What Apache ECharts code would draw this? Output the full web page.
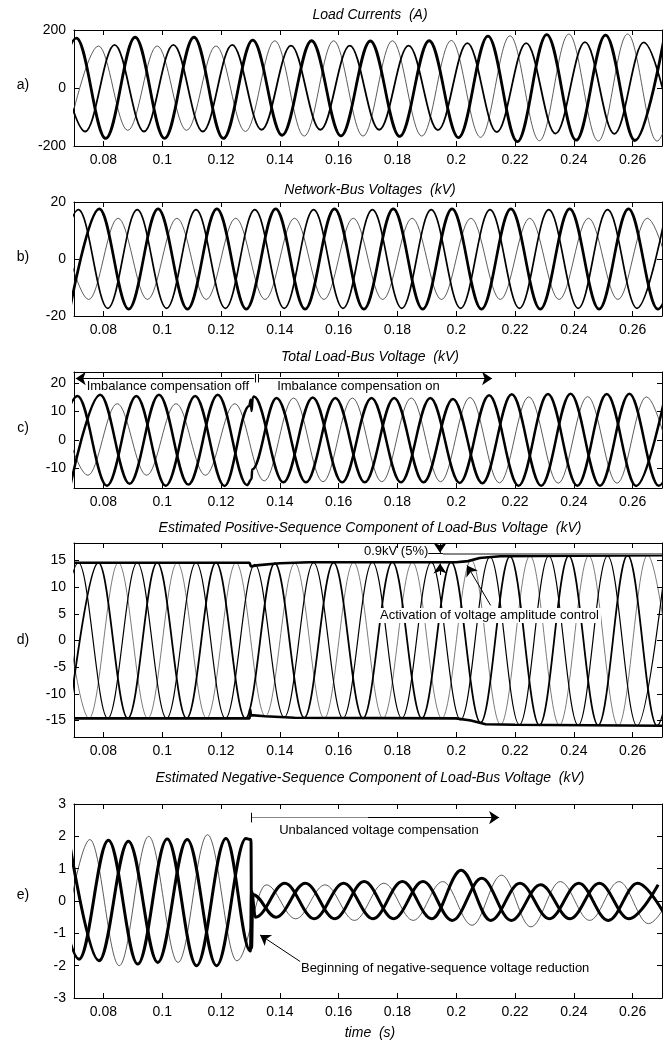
<!DOCTYPE html>
<html><head><meta charset="utf-8">
<script src="https://cdn.jsdelivr.net/npm/echarts@6/dist/echarts.min.js"></script>
<style>html,body{margin:0;padding:0;background:#fff}#c{width:663px;height:1044px}</style>
</head><body><div id="c"></div>
<script>
// ---------------- data ----------------
const HALF_PERIOD = 0.01; // 50 Hz waveforms: successive extrema are 10 ms apart
const TIME_TICKS = [0.08, 0.10, 0.12, 0.14, 0.16, 0.18, 0.20, 0.22, 0.24, 0.26];
const A_TICKS = [-200, 0, 200];
const B_TICKS = [-20, 0, 20];
const C_TICKS = [-10, 0, 10, 20];
const D_TICKS = [-15, -10, -5, 0, 5, 10, 15];
const E_TICKS = [-3, -2, -1, 0, 1, 2, 3];

// a) Load currents (A): extrema values, first extremum time
const LOAD_I_THICK_T0 = 0.0608;
const LOAD_I_THICK = [-174, 172, -174, 175, -174, 175, -174, 165, -163, 163, -165, 162, -167, 163, -171, 179, -185, 184, -180, 182, -181, 176];
const LOAD_I_MED_T0 = 0.0638;
const LOAD_I_MED = [149, -150, 149, -150, 149, -150, 149, -144, 146, -144, 146, -144, 146, -145, 155, -152, 155, -157, 158, -158, 157, -157];
const LOAD_I_THIN_T0 = 0.0683;
const LOAD_I_THIN = [-145, 145, -146, 145, -146, 145, -150, 163, -166, 163, -166, 163, -166, 164, -170, 180, -182, 186, -183, 186, -183, 183];

// b) Network-bus voltages (kV)
const NET_V_MED_T0 = 0.0615;
const NET_V_MED = [-17.3, 17.3, -17.3, 17.3, -17.3, 17.3, -17.3, 17.3, -17.3, 17.3, -17.3, 17.3, -17.3, 17.3, -17.3, 17.3, -17.3, 17.3, -17.3, 17.3, -17.3, 17.3];
const NET_V_THICK_T0 = 0.0686;
const NET_V_THICK = [-17.6, 17.6, -17.6, 17.6, -17.6, 17.6, -17.6, 17.6, -17.6, 17.6, -17.6, 17.6, -17.6, 17.6, -17.6, 17.6, -17.6, 17.6, -17.6, 17.6, -17.6, 17.6];
const NET_V_THIN_T0 = 0.0650;
const NET_V_THIN = [14.3, -14.2, 14.3, -14.2, 14.3, -14.2, 14.3, -14.2, 14.3, -14.2, 14.3, -14.2, 14.3, -14.2, 14.3, -14.2, 14.3, -14.2, 14.3, -14.2, 14.3, -14.2];

// c) Total load-bus voltage (kV)
const LB_V_1_PRE_T0 = 0.0612;
const LB_V_1_PRE = [-16.0, 15.5, -16.2, 15.5, -16.2, 15.5, -16.3];
const LB_V_1_GLITCH = [[0.1296, 12.0], [0.1301, 14.2], [0.1304, 10.2], [0.1308, 15.0]];
const LB_V_1_POST_T0 = 0.1312;
const LB_V_1_POST = [15.3, -15.0, 15.0, -15.0, 14.8, -15.0, 14.8, -15.2, 15.8, -16.2, 16.2, -16.2, 16.2, -16.3, 16.2];
const LB_V_2_PRE_T0 = 0.0689;
const LB_V_2_PRE = [-15.5, 16.0, -15.5, 16.0, -15.8, 16.0, -16.0];
const LB_V_2_GLITCH = [[0.1304, -13.8], [0.1306, -10.5]];
const LB_V_2_POST_T0 = 0.1389;
const LB_V_2_POST = [14.8, -15.0, 14.8, -15.0, 14.8, -15.0, 14.5, -15.3, 16.1, -16.2, 16.3, -16.2, 16.3, -16.2, 16.2];
const LB_V_3_T0 = 0.0647;
const LB_V_3 = [12.8, -12.5, 12.8, -12.5, 12.8, -12.5, 12.8, -14.5, 14.8, -14.8, 14.8, -14.8, 14.8, -14.8, 15.0, -15.2, 15.2, -15.3, 15.3, -15.3, 15.2, -15.0];

// d) Estimated positive-sequence component (kV)
const POS_MED_T0 = 0.0615;
const POS_MED = [-14.6, 14.6, -14.6, 14.6, -14.6, 14.6, -14.6, 14.3, -14.4, 14.6, -14.6, 14.7, -14.6, 14.7, -14.9, 15.7, -15.8, 15.9, -15.9, 15.9, -16.0, 16.0];
const POS_THICK_T0 = 0.0683;
const POS_THICK = [-14.6, 14.6, -14.6, 14.6, -14.6, 14.6, -14.6, 14.5, -14.5, 14.6, -14.6, 14.7, -14.6, 14.7, -15.4, 15.8, -15.9, 15.9, -15.9, 16.0, -16.0, 16.0];
const POS_THIN_T0 = 0.0651;
const POS_THIN = [14.6, -14.6, 14.6, -14.6, 14.6, -14.6, 14.6, -14.2, 14.5, -14.6, 14.7, -14.6, 14.7, -14.6, 15.1, -15.8, 15.9, -15.9, 15.9, -16.0, 16.0, -16.0];
const POS_ENV_UP = [[0.07, 14.6], [0.1297, 14.6], [0.1302, 13.9], [0.1320, 14.1], [0.1400, 14.5], [0.1500, 14.7], [0.2000, 14.7], [0.2040, 14.9], [0.2080, 15.5], [0.2150, 15.8], [0.2400, 15.9], [0.2700, 16.0]];
const POS_ENV_LO = [[0.07, -14.6], [0.1297, -14.6], [0.1299, -12.9], [0.1302, -14.0], [0.1350, -14.2], [0.1450, -14.5], [0.2000, -14.6], [0.2050, -15.0], [0.2100, -15.7], [0.2200, -15.8], [0.2700, -16.0]];
const POS_REF_LEVEL = 16.3;

// e) Estimated negative-sequence component (kV)
const NEG_THIN_PRE_T0 = 0.0654;
const NEG_THIN_PRE = [-1.9, 1.9, -2.0, 2.0, -1.9, 2.05, -1.85];
const NEG_THIN_POST_T0 = 0.1354;
const NEG_THIN_POST = [0.5, -0.55, 0.5, -0.6, 0.55, -0.6, 0.6, -0.75, 0.8, -0.8, 0.6, -0.6, 0.6, -0.7, 0.6];
const NEG_A_PRE_T0 = 0.0617;
const NEG_A_PRE = [1.85, -1.8, 1.88, -1.95, 1.92, -2.0, 1.93];
const NEG_A_JUMP = [[0.1300, -1.55], [0.1304, 0.3]];
const NEG_A_POST_T0 = 0.1317;
const NEG_A_POST = [-0.5, 0.55, -0.55, 0.55, -0.55, 0.6, -0.55, 0.95, -0.6, 0.55, -0.55, 0.55, -0.6, 0.55, -0.55];
const NEG_B_PRE_T0 = 0.0685;
const NEG_B_PRE = [1.8, -1.85, 1.85, -1.9, 1.9, -2.0, 1.93];
const NEG_B_JUMP = [[0.1302, 1.9], [0.1304, -1.45], [0.1308, 0.2]];
const NEG_B_POST_T0 = 0.1387;
const NEG_B_POST = [-0.5, 0.55, -0.55, 0.6, -0.55, 0.6, -0.6, 0.7, -0.6, 0.5, -0.55, 0.55, -0.55, 0.5];

// ---------------- helpers ----------------
function ext(t0, vals) { return vals.map((v, i) => [Math.round((t0 + i * HALF_PERIOD) * 1e5) / 1e5, v]); }
const FONT = '"Liberation Sans", Arial, Helvetica, sans-serif';
const chart = echarts.init(document.getElementById('c'), null, {renderer: 'canvas'});

const GRIDS = [
  {top: 30, height: 116, min: -200, max: 200, ticks: A_TICKS},
  {top: 202, height: 114, min: -20, max: 20, ticks: B_TICKS},
  {top: 372, height: 116, min: -17, max: 24, ticks: C_TICKS},
  {top: 543, height: 194, min: -18.1, max: 18.3, ticks: D_TICKS},
  {top: 804, height: 194, min: -3, max: 3, ticks: E_TICKS}
];
const grid = [], xAxis = [], yAxis = [];
GRIDS.forEach((G, g) => {
  grid.push({left: 74, width: 588, top: G.top, height: G.height, outerBoundsMode: 'none', containLabel: false});
  const xBase = {type: 'value', gridIndex: g, min: 0.07, max: 0.27, splitLine: {show: false},
    axisLine: {show: true, onZero: false, lineStyle: {color: '#000', width: 1}},
    axisTick: {show: true, inside: true, length: 5, customValues: TIME_TICKS, lineStyle: {color: '#000', width: 1}}};
  xAxis.push(Object.assign({}, xBase, {position: 'bottom',
    axisLabel: {show: true, customValues: TIME_TICKS, formatter: v => String(Math.round(v * 100) / 100), color: '#000', fontSize: 14, fontFamily: FONT, margin: 7}}));
  xAxis.push(Object.assign({}, xBase, {position: 'top', axisLabel: {show: false, customValues: TIME_TICKS}}));
  const yBase = {type: 'value', gridIndex: g, min: G.min, max: G.max, splitLine: {show: false},
    axisLine: {show: true, onZero: false, lineStyle: {color: '#000', width: 1}},
    axisTick: {show: true, inside: true, length: 5, customValues: G.ticks, lineStyle: {color: '#000', width: 1}}};
  yAxis.push(Object.assign({}, yBase, {position: 'left',
    axisLabel: {show: true, customValues: G.ticks, formatter: v => String(Math.round(v)), color: '#000', fontSize: 14, fontFamily: FONT, margin: 8}}));
  yAxis.push(Object.assign({}, yBase, {position: 'right', axisLabel: {show: false, customValues: G.ticks}}));
});

function wave(g, data, width, color, smooth) {
  return {type: 'line', xAxisIndex: 2 * g, yAxisIndex: 2 * g, data: data, showSymbol: false, symbol: 'none',
    smooth: smooth === undefined ? 0.36 : smooth, smoothMonotone: 'x', clip: true, silent: true, animation: false,
    lineStyle: {width: width, color: color || '#000'}, z: 2};
}
function arrows(list) {
  return {silent: true, animation: false, symbolSize: 10, label: {show: false},
    lineStyle: {color: '#000', width: 1, type: 'solid'},
    data: list.map(a => [
      {coord: a[0], symbol: 'none'},
      {coord: a[1], symbol: a[2] ? 'arrow' : 'none', lineStyle: a[3] || undefined}
    ])};
}

const series = [];
// a
series.push(wave(0, ext(LOAD_I_THIN_T0, LOAD_I_THIN), 0.8, '#333'));
series.push(wave(0, ext(LOAD_I_MED_T0, LOAD_I_MED), 1.8));
series.push(wave(0, ext(LOAD_I_THICK_T0, LOAD_I_THICK), 2.8));
// b
series.push(wave(1, ext(NET_V_THIN_T0, NET_V_THIN), 0.8, '#333'));
series.push(wave(1, ext(NET_V_MED_T0, NET_V_MED), 1.7));
series.push(wave(1, ext(NET_V_THICK_T0, NET_V_THICK), 2.7));
// c
const sC3 = wave(2, ext(LB_V_3_T0, LB_V_3), 0.8, '#333');
series.push(sC3);
series.push(wave(2, ext(LB_V_1_PRE_T0, LB_V_1_PRE).concat(LB_V_1_GLITCH, ext(LB_V_1_POST_T0, LB_V_1_POST)), 2.5));
series.push(wave(2, ext(LB_V_2_PRE_T0, LB_V_2_PRE).concat(LB_V_2_GLITCH, ext(LB_V_2_POST_T0, LB_V_2_POST)), 2.5));
sC3.markLine = arrows([
  [[0.1313, 21.7], [0.0706, 21.7], true],
  [[0.1330, 21.7], [0.2122, 21.7], true],
  [[0.1316, 20.3], [0.1316, 23.3]],
  [[0.1326, 20.3], [0.1326, 23.3]]
]);
// d
const sD3 = wave(3, ext(POS_THIN_T0, POS_THIN), 0.7, '#444');
series.push(sD3);
series.push(wave(3, ext(POS_MED_T0, POS_MED), 1.2));
series.push(wave(3, ext(POS_THICK_T0, POS_THICK), 1.8));
series.push(wave(3, POS_ENV_UP, 2.6, '#000', false));
series.push(wave(3, POS_ENV_LO, 2.6, '#000', false));
sD3.markLine = arrows([
  [[0.2117, 6.6], [0.2037, 14.1], true],
  [[0.1945, 18.2], [0.1945, 16.45], true],
  [[0.1945, 12.3], [0.1945, 14.45], true],
  [[0.1905, POS_REF_LEVEL], [0.1955, POS_REF_LEVEL]],
  [[0.1955, POS_REF_LEVEL], [0.27, POS_REF_LEVEL], false, {color: '#888', width: 2}]
]);
// e
const sE3 = wave(4, ext(NEG_THIN_PRE_T0, NEG_THIN_PRE).concat(ext(NEG_THIN_POST_T0, NEG_THIN_POST)), 0.8, '#333');
series.push(sE3);
series.push(wave(4, ext(NEG_A_PRE_T0, NEG_A_PRE).concat(NEG_A_JUMP, ext(NEG_A_POST_T0, NEG_A_POST)), 3.0));
series.push(wave(4, ext(NEG_B_PRE_T0, NEG_B_PRE).concat(NEG_B_JUMP, ext(NEG_B_POST_T0, NEG_B_POST)), 3.0));
sE3.markLine = arrows([
  [[0.1304, 2.58], [0.1700, 2.58], false, {color: '#888', width: 1}],
  [[0.1700, 2.58], [0.2146, 2.58], true],
  [[0.1304, 2.43], [0.1304, 2.73]],
  [[0.1469, -1.87], [0.1333, -1.05], true]
]);

chart.setOption({animation: false, backgroundColor: '#fff', grid, xAxis, yAxis, series});

// text layer
function px(g, t, v) { return chart.convertToPixel({xAxisIndex: 2 * g, yAxisIndex: 2 * g}, [t, v]); }
function txt(x, y, s, opts) {
  opts = opts || {};
  return {type: 'text', x: x, y: y, silent: true, z: 100,
    style: {text: s, fill: '#000', font: (opts.italic ? 'italic ' : '') + (opts.size || 14) + 'px ' + FONT,
      align: opts.align || 'left', verticalAlign: 'middle',
      backgroundColor: opts.bg, padding: opts.bg ? [1, 2] : 0}};
}
const gfx = [];
[['Load Currents  (A)', 15], ['Network-Bus Voltages  (kV)', 190], ['Total Load-Bus Voltage  (kV)', 357],
 ['Estimated Positive-Sequence Component of Load-Bus Voltage  (kV)', 528],
 ['Estimated Negative-Sequence Component of Load-Bus Voltage  (kV)', 778]].forEach(t => gfx.push(txt(370, t[1], t[0], {italic: true, align: 'center'})));
[['a)', 85], ['b)', 257], ['c)', 428], ['d)', 640], ['e)', 895]].forEach(t => gfx.push(txt(23, t[1], t[0], {align: 'center'})));
gfx.push(txt(370, 1033, 'time  (s)', {italic: true, align: 'center'}));
let p;
p = px(2, 0.0743, 18.9); gfx.push(txt(p[0], p[1], 'Imbalance compensation off', {size: 13}));
p = px(2, 0.1391, 18.9); gfx.push(txt(p[0], p[1], 'Imbalance compensation on', {size: 13}));
p = px(3, 0.1905, 16.75); gfx.push(txt(p[0], p[1], '0.9kV (5%)', {size: 13, align: 'right'}));
p = px(3, 0.1734, 4.7); gfx.push(txt(p[0], p[1], 'Activation of voltage amplitude control', {size: 13, bg: '#fff'}));
p = px(4, 0.1398, 2.17); gfx.push(txt(p[0], p[1], 'Unbalanced voltage compensation', {size: 13}));
p = px(4, 0.1472, -2.1); gfx.push(txt(p[0], p[1], 'Beginning of negative-sequence voltage reduction', {size: 13}));
chart.setOption({graphic: gfx});
</script>
</body></html>
